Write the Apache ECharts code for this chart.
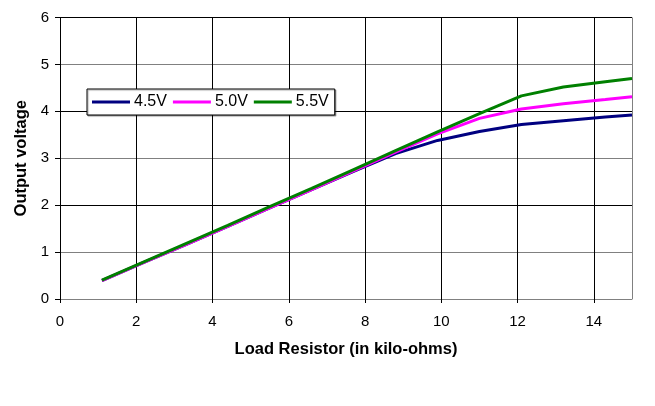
<!DOCTYPE html>
<html><head><meta charset="utf-8">
<script src="https://cdn.jsdelivr.net/npm/echarts@6/dist/echarts.min.js"></script>
<style>html,body{margin:0;padding:0;background:#fff}#c{width:655px;height:406px}</style>
</head><body><div id="c"></div>
<script>
const resistance = [1.1, 2.2, 3.3, 4.4, 5.5, 6.6, 7.7, 8.8, 9.9, 11, 12.1, 13.2, 14.3, 15];
const v45 = [0.39, 0.78, 1.16, 1.55, 1.94, 2.33, 2.72, 3.10, 3.38, 3.57, 3.72, 3.80, 3.88, 3.92];
const v50 = [0.39, 0.78, 1.16, 1.55, 1.94, 2.33, 2.73, 3.13, 3.52, 3.85, 4.05, 4.16, 4.25, 4.31];
const v55 = [0.40, 0.79, 1.18, 1.57, 1.97, 2.36, 2.76, 3.16, 3.56, 3.95, 4.33, 4.52, 4.63, 4.70];
const seriesNames = ['4.5V', '5.0V', '5.5V'];
const xTitle = 'Load Resistor (in kilo-ohms)';
const yTitle = 'Output voltage';

const pair = (ys) => resistance.map((x, i) => [x, ys[i]]);
const font = 'Liberation Sans, Arial, sans-serif';
const chart = echarts.init(document.getElementById('c'));
chart.setOption({
  animation: false,
  backgroundColor: '#fff',
  grid: { left: 60, right: 23, top: 17.5, bottom: 107, containLabel: false },
  legend: {
    left: 87, top: 89, orient: 'horizontal',
    data: seriesNames,
    icon: 'rect', itemWidth: 38, itemHeight: 3, itemGap: 6,
    padding: [5, 6, 5, 5],
    borderColor: '#000', borderWidth: 1, backgroundColor: '#fff',
    shadowColor: 'rgba(0,0,0,0.35)', shadowOffsetX: 1, shadowOffsetY: 1, shadowBlur: 1,
    textStyle: { fontFamily: font, fontSize: 16, color: '#000', padding: [0, 0, 0, -1] }
  },
  xAxis: {
    type: 'value', min: 0, max: 15, interval: 2,
    name: xTitle, nameLocation: 'middle', nameGap: 42,
    nameTextStyle: { fontFamily: font, fontSize: 16.5, fontWeight: 'bold', color: '#000' },
    axisLine: { lineStyle: { color: '#808080', width: 1 } },
    axisTick: { show: true, length: 4, lineStyle: { color: '#000' } },
    axisLabel: { fontFamily: font, fontSize: 15, color: '#000', margin: 15, showMaxLabel: false,
      formatter: v => (v === 15 ? '' : String(v)) },
    splitLine: { show: true, lineStyle: { color: ['#000','#000','#000','#000','#000','#000','#000','#000','#808080'], width: 1 } }
  },
  yAxis: {
    type: 'value', min: 0, max: 6, interval: 1,
    name: yTitle, nameLocation: 'middle', nameGap: 30, nameRotate: 90,
    nameTextStyle: { fontFamily: font, fontSize: 16.5, fontWeight: 'bold', color: '#000' },
    axisLine: { show: true, lineStyle: { color: '#000', width: 1 } },
    axisTick: { show: true, length: 5, lineStyle: { color: '#000' } },
    axisLabel: { fontFamily: font, fontSize: 15, color: '#000', margin: 11 },
    splitLine: { show: true, lineStyle: { color: ['#808080','#808080','#000','#808080','#000','#808080','#000'], width: 1 } }
  },
  series: [
    { name: seriesNames[0], type: 'line', data: pair(v45), showSymbol: false, symbol: 'none', lineStyle: { color: '#000080', width: 3 }, itemStyle: { color: '#000080' } },
    { name: seriesNames[1], type: 'line', data: pair(v50), showSymbol: false, symbol: 'none', lineStyle: { color: '#FF00FF', width: 3 }, itemStyle: { color: '#FF00FF' } },
    { name: seriesNames[2], type: 'line', data: pair(v55), showSymbol: false, symbol: 'none', lineStyle: { color: '#008000', width: 3 }, itemStyle: { color: '#008000' } }
  ]
});
</script></body></html>
